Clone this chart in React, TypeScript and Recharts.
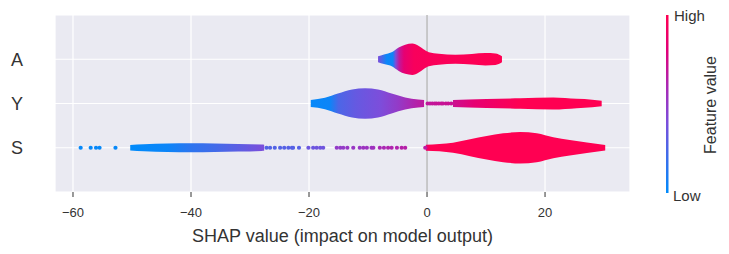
import {
  ComposedChart,
  Area,
  Scatter,
  XAxis,
  YAxis,
  CartesianGrid,
} from "recharts";

// row positions (matplotlib style: first feature at the bottom)
const features = ["S", "Y", "A"];
const xTicks = [-60, -40, -20, 0, 20];

// A violin: x positions and half widths (y units)
const aX = [-8.3, -7.3, -5.9, -4.8, -3.7, -2.5, -1.4, -0.6, 0.3, 2, 4.8, 7.6, 9.9, 11.6, 12.7];
const aW = [0.07, 0.11, 0.165, 0.265, 0.33, 0.355, 0.3, 0.225, 0.16, 0.125, 0.1, 0.12, 0.14, 0.13, 0.07];
// mean feature value along the violin
const aColX = [-8.3, -7.5, -6.8, -5.8, -5.3, -4.7, -3.9, -2.2, 12.7];
const aColV = [0.4, 0.2, 0.03, 0.05, 0.42, 0.68, 0.83, 0.95, 1];

// Y violin, left part
const yLeftX = [-19.7, -17.3, -15.1, -12.7, -10.5, -8.3, -6, -3.7, -1.5, -0.5];
const yLeftW = [0.08, 0.13, 0.225, 0.315, 0.345, 0.315, 0.225, 0.135, 0.09, 0.08];
const yLeftColX = [-19.7, -16.5, -15, -12, -8, -5, -2, -0.5];
const yLeftColV = [0.02, 0.04, 0.25, 0.33, 0.4, 0.5, 0.63, 0.68];

// Y violin, right part
const yRightX = [4.4, 7, 10.1, 15.8, 21.4, 25.4, 28, 29.6];
const yRightW = [0.08, 0.09, 0.1, 0.12, 0.135, 0.105, 0.085, 0.06];
const yRightColX = [4.4, 8, 12, 16, 29.6];
const yRightColV = [0.72, 0.83, 0.92, 1, 1];

// S violin, left part
const sLeftX = [-50.3, -48, -44, -40, -36, -32, -28, -27.6];
const sLeftW = [0.063, 0.08, 0.095, 0.1, 0.095, 0.086, 0.072, 0.068];
const sLeftColX = [-50.3, -44, -40, -36, -32, -27.6];
const sLeftColV = [0, 0.04, 0.15, 0.22, 0.3, 0.4];

// S violin, right part
const sRightX = [-0.2, 4.4, 7.3, 10.1, 12.9, 15.8, 18.6, 21.4, 24.2, 27.1, 30.2];
const sRightW = [0.068, 0.113, 0.19, 0.265, 0.325, 0.355, 0.325, 0.235, 0.175, 0.12, 0.06];
const sRightColX = [-0.2, 0.6, 30.2];
const sRightColV = [0.85, 1, 1];

// low-density points drawn as dots
const yDotX = [0.1, 0.5, 0.9, 1.3, 1.6, 2.0, 2.4, 2.7, 3.2, 3.6, 4.1];
const yDotV = [0.68, 0.68, 0.69, 0.69, 0.7, 0.7, 0.7, 0.7, 0.71, 0.71, 0.71];
const sDotX = [
  -58.7, -57.0, -56.1, -55.5, -52.8,
  -27.2, -26.6, -25.8, -24.9, -24.2, -23.5, -22.9, -22.7, -21.7,
  -20.1, -19.3, -18.7, -18.1, -17.6,
  -15.3, -14.7, -14.2, -13.5, -12.5, -11.4, -10.8, -10.2, -9.4, -9.1,
  -8.0, -7.3, -6.6, -6.0, -5.1, -4.3, -3.7, -0.3,
];
const sDotV = [
  0.02, 0.02, 0.02, 0.02, 0.02,
  0.27, 0.27, 0.27, 0.27, 0.28, 0.28, 0.28, 0.28, 0.28,
  0.35, 0.35, 0.36, 0.36, 0.36,
  0.5, 0.5, 0.5, 0.52, 0.52, 0.52, 0.54, 0.54, 0.54, 0.55,
  0.6, 0.6, 0.62, 0.62, 0.62, 0.64, 0.64, 0.66,
];

// shap red_blue colormap, approximated
const CMAP: [number, number[]][] = [
  [0, [0, 139, 251]],
  [0.2, [60, 110, 235]],
  [0.4, [124, 78, 219]],
  [0.6, [170, 40, 180]],
  [0.8, [225, 0, 120]],
  [1, [255, 0, 82]],
];

function cmap(v: number) {
  for (let i = 1; i < CMAP.length; i++) {
    const [p0, c0] = CMAP[i - 1];
    const [p1, c1] = CMAP[i];
    if (v <= p1) {
      const t = (v - p0) / (p1 - p0);
      const c = c0.map((a, k) => Math.round(a + (c1[k] - a) * t));
      return `rgb(${c[0]},${c[1]},${c[2]})`;
    }
  }
  return "rgb(255,0,82)";
}

const FONT = "Liberation Sans, Arial, Helvetica, sans-serif";

const violins = [
  { id: "vA", row: 2, xs: aX, ws: aW, cx: aColX, cv: aColV },
  { id: "vYl", row: 1, xs: yLeftX, ws: yLeftW, cx: yLeftColX, cv: yLeftColV },
  { id: "vYr", row: 1, xs: yRightX, ws: yRightW, cx: yRightColX, cv: yRightColV },
  { id: "vSl", row: 0, xs: sLeftX, ws: sLeftW, cx: sLeftColX, cv: sLeftColV },
  { id: "vSr", row: 0, xs: sRightX, ws: sRightW, cx: sRightColX, cv: sRightColV },
].map((v) => ({
  ...v,
  rows: v.xs.map((x, i) => ({ x, band: [v.row - v.ws[i], v.row + v.ws[i]] })),
}));

const dots = [
  ...yDotX.map((x, i) => ({ x, y: 1, v: yDotV[i] })),
  ...sDotX.map((x, i) => ({ x, y: 0, v: sDotV[i] })),
];

const fmt = (v: number) => String(v).replace("-", "\u2212");

// gray line at x = 0, drawn as a grid line so it stays behind the violins
const zeroGen = (props: any) => {
  const s = props?.xAxis?.scale;
  if (typeof s === "function") return [s(0)];
  if (s && typeof s.map === "function") return [s.map(0)];
  return [];
};

export default function App() {
  return (
    <div style={{ position: "absolute", left: 0, top: 0, width: 729, height: 254, background: "#fff" }}>
      <ComposedChart
        width={729}
        height={254}
        margin={{ top: 15, right: 99, bottom: 0, left: 0 }}
        style={{ fontFamily: FONT }}
      >
        <defs>
          {violins.map((v) => {
            const x0 = v.xs[0];
            const x1 = v.xs[v.xs.length - 1];
            return (
              <linearGradient key={v.id} id={v.id} x1="0" y1="0" x2="1" y2="0">
                {v.cx.map((x, i) => (
                  <stop key={i} offset={(x - x0) / (x1 - x0)} stopColor={cmap(v.cv[i])} />
                ))}
              </linearGradient>
            );
          })}
        </defs>
        <CartesianGrid fill="#eaeaf2" stroke="#ffffff" strokeWidth={1.2} />
        <CartesianGrid
          horizontal={false}
          fill="none"
          stroke="#999999"
          strokeWidth={1}
          verticalCoordinatesGenerator={zeroGen}
        />
        <XAxis
          type="number"
          dataKey="x"
          domain={[-63.05, 34.4]}
          ticks={xTicks}
          tickFormatter={fmt}
          allowDataOverflow
          axisLine={false}
          tickSize={5}
          tickMargin={11}
          height={62}
          tickLine={{ stroke: "#333" }}
          tick={{ fill: "#333", fontSize: 13, fontFamily: FONT }}
          label={{
            value: "SHAP value (impact on model output)",
            position: "insideBottom",
            offset: 12,
            fill: "#333",
            fontSize: 18,
            fontFamily: FONT,
          }}
        />
        <YAxis
          type="number"
          dataKey="y"
          domain={[-1, 3]}
          ticks={[0, 1, 2]}
          tickFormatter={(v: number) => features[v]}
          allowDataOverflow
          axisLine={false}
          tickLine={false}
          tickSize={0}
          tickMargin={32}
          width={55}
          tick={{ fill: "#333", fontSize: 18, fontFamily: FONT }}
        />
        {violins.map((v) => (
          <Area
            key={v.id}
            data={v.rows}
            dataKey="band"
            type="monotone"
            stroke="none"
            fill={`url(#${v.id})`}
            fillOpacity={1}
            activeDot={false}
            isAnimationActive={false}
          />
        ))}
        <Scatter
          data={dots}
          dataKey="y"
          isAnimationActive={false}
          shape={(p: any) => <circle cx={p.cx} cy={p.cy} r={2.1} fill={cmap(p.payload.v)} />}
        />
      </ComposedChart>
      <svg
        width={729}
        height={254}
        style={{ position: "absolute", left: 0, top: 0, pointerEvents: "none" }}
      >
        <defs>
          <linearGradient id="cbar" x1="0" y1="1" x2="0" y2="0">
            {CMAP.map(([p, c]) => (
              <stop key={p} offset={p} stopColor={`rgb(${c[0]},${c[1]},${c[2]})`} />
            ))}
          </linearGradient>
        </defs>
        <rect x={666} y={15} width={2.5} height={178} fill="url(#cbar)" />
        <text x={674} y={21} fontSize={15} fill="#333" fontFamily={FONT}>
          High
        </text>
        <text x={673} y={201} fontSize={15} fill="#333" fontFamily={FONT}>
          Low
        </text>
        <text
          x={716}
          y={105}
          fontSize={16}
          fill="#333"
          fontFamily={FONT}
          textAnchor="middle"
          transform="rotate(-90 716 105)"
        >
          Feature value
        </text>
      </svg>
    </div>
  );
}
